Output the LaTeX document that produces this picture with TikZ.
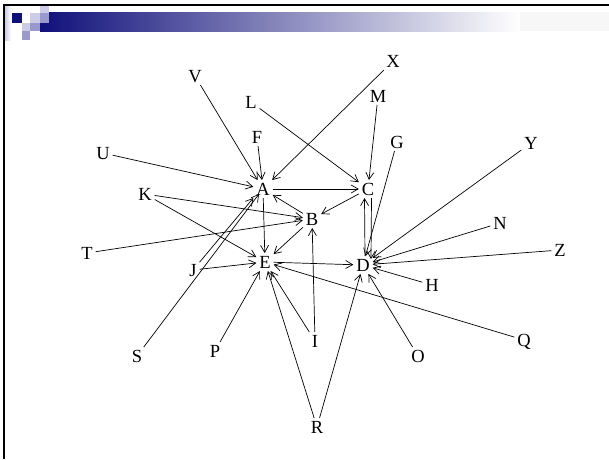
\documentclass[tikz,border=0pt]{standalone}
\usepackage{fontspec}
\setmainfont{Liberation Serif}
\usetikzlibrary{arrows.meta}
\definecolor{navyblue}{RGB}{16,16,122}
\definecolor{lightlav}{RGB}{204,204,230}
\definecolor{midlav}{RGB}{153,153,204}
\begin{document}
\begin{tikzpicture}[x=1pt,y=-1pt,
	vertex/.style={inner sep=3pt,outer sep=0pt,text height=12pt,text depth=0pt,
		font=\fontsize{18.5}{20}\selectfont},
	link/.style={line width=0.7pt,-{Straight Barb[length=7pt,width=8pt]}},
	swatch/.style={draw=none}]
	\useasboundingbox (0,0) rectangle (609,459);
	% slide header
	\shade[left color=navyblue,right color=white] (40,12) rectangle (520,31);
	\fill[black!3] (520,12) rectangle (609,31);
	\shade[left color=lightlav,right color=white] (5,6) rectangle (11,40);
	\fill[swatch,navyblue] (12,13) rectangle (22,23);
	\fill[swatch,lightlav] (30,13) rectangle (40,23);
	\fill[swatch,midlav] (40,13) rectangle (49,23);
	\fill[swatch,lightlav] (40,6) rectangle (49,13);
	\fill[swatch,lightlav] (22,23) rectangle (30,31);
	\fill[swatch,midlav] (30,23) rectangle (40,31);
	\fill[swatch,midlav] (22,31) rectangle (30,40);
	\draw[line width=2pt] (4,459) -- (4,5) -- (609,5);

	% nodes
	\node[vertex] (A) at (263,189) {A};
	\node[vertex] (B) at (312,219) {B};
	\node[vertex] (C) at (368,189) {C};
	\node[vertex] (D) at (363,265) {D};
	\node[vertex] (E) at (265,262) {E};
	\node[vertex] (F) at (257,137) {F};
	\node[vertex] (G) at (397,142) {G};
	\node[vertex] (H) at (432,285) {H};
	\node[vertex] (I) at (315,341) {I};
	\node[vertex] (J) at (193,270) {J};
	\node[vertex] (K) at (145,194) {K};
	\node[vertex] (L) at (251,102) {L};
	\node[vertex] (M) at (378,96) {M};
	\node[vertex] (N) at (500,223) {N};
	\node[vertex] (O) at (418,356) {O};
	\node[vertex] (P) at (215,351) {P};
	\node[vertex] (Q) at (524,340) {Q};
	\node[vertex] (R) at (317,427) {R};
	\node[vertex] (S) at (137,356) {S};
	\node[vertex] (T) at (87,253) {T};
	\node[vertex] (U) at (103,153) {U};
	\node[vertex] (V) at (195,76) {V};
	\node[vertex] (X) at (393,61) {X};
	\node[vertex] (Y) at (531,143) {Y};
	\node[vertex] (Z) at (560,250) {Z};

	% links into A
	\draw[link] (V) -- (A);
	\draw[link] (U) -- (A);
	\draw[link] (F) -- (A);
	\draw[link] (X) -- (A);
	\draw[link] (B) -- (A);
	\draw[link] (J) -- (A.south west);
	\draw[link] (S) -- ([xshift=-4pt,yshift=4pt]A.south);
	% links into C
	\draw[link] (L) -- (C);
	\draw[link] (M) -- (C);
	\draw[link] (A) -- (C);
	\draw[link] ([xshift=2pt]D.north) -- ([xshift=-3.5pt]C.south);
	% links into B
	\draw[link] (C) -- (B);
	\draw[link] (K) -- (B);
	\draw[link] (T) -- (B);
	\draw[link] (I) -- (B);
	% links into E
	\draw[link] (A) -- (E);
	\draw[link] (B) -- (E);
	\draw[link] (K) -- (E);
	\draw[link] (J) -- (E);
	\draw[link] (P) -- (E);
	\draw[link] (I) -- (E);
	\draw[link] (R) -- (E);
	\draw[link] (Q) -- (E);
	% links into D
	\draw[link] ([xshift=3.5pt]C.south) -- ([xshift=8pt,yshift=-3pt]D.north);
	\draw[link] (E) -- (D);
	\draw[link] (G) -- (D);
	\draw[link] (Y) -- (D);
	\draw[link] (N) -- (D);
	\draw[link] (Z) -- (D);
	\draw[link] (H) -- (D);
	\draw[link] (O) -- (D);
	\draw[link] (R) -- (D);
\end{tikzpicture}
\end{document}
